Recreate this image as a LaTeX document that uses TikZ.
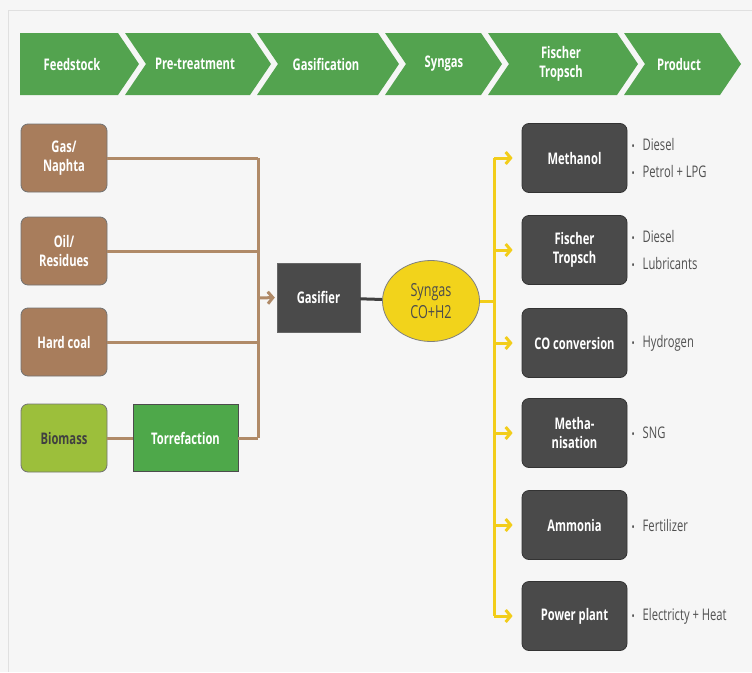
\documentclass[tikz,border=0pt]{standalone}
\usepackage{fontspec}
\setmainfont{Open Sans}[FakeStretch=0.7]
\usetikzlibrary{arrows.meta,shapes.geometric}

\definecolor{chevgreen}{HTML}{53A34F}
\definecolor{boxgray}{HTML}{4A4A4A}
\definecolor{brownbox}{HTML}{A87D5C}
\definecolor{brownline}{HTML}{B08A68}
\definecolor{biogreen}{HTML}{9CBF3B}
\definecolor{torgreen}{HTML}{4EA84A}
\definecolor{syngold}{HTML}{F2D31B}
\definecolor{linegold}{HTML}{F2CD1A}
\definecolor{bgpanel}{HTML}{F6F6F6}
\definecolor{bullettext}{HTML}{505050}

\begin{document}
\begin{tikzpicture}[x=1pt,y=-1pt,
		font=\bfseries\fontsize{16}{19}\selectfont,
		chevron/.style={fill=chevgreen},
		phase/.style={text=white,align=center},
		feedbox/.style={draw=black!55,line width=0.8pt,fill=brownbox,rounded corners=7pt,
			minimum width=86pt,minimum height=68pt,text=white,align=center},
		biobox/.style={feedbox,fill=biogreen,text=black!75},
		torrbox/.style={draw=black!70,line width=0.8pt,fill=torgreen,minimum width=105pt,
			minimum height=67pt,text=white},
		gasbox/.style={draw=black!60,fill=boxgray,minimum width=83pt,minimum height=69pt,text=white},
		synbubble/.style={ellipse,draw=black!50,line width=0.8pt,fill=syngold,minimum width=97pt,
			minimum height=81pt,text=black!70,align=center,
			font=\mdseries\fontsize{18}{22}\selectfont},
		procbox/.style={draw=black!80,line width=0.8pt,fill=boxgray,rounded corners=7pt,
			minimum width=105pt,minimum height=69pt,text=white,align=center},
		outlist/.style={anchor=west,align=left,text=bullettext,
			font=\mdseries\fontsize{16}{27}\selectfont},
		brownlink/.style={draw=brownline,line width=3pt},
		goldlink/.style={draw=linegold,line width=3pt},
		feedarrow/.style={brownlink,-{Straight Barb[length=5pt,width=12pt]},shorten >=2pt},
		goldarrow/.style={goldlink,-{Straight Barb[length=5pt,width=12pt]},shorten >=9pt}]
	\useasboundingbox (0,0) rectangle (752,672);
	\fill[bgpanel] (0,0) rectangle (752,672);
	\draw[black!12,line width=1pt] (8,672) -- (8,10) -- (752,10);

	% phase chevrons
	\foreach \xl/\xr/\nt/\tx/\txt [count=\i] in {20/118/0/72/Feedstock,
			125/250/21/195/Pre-treatment,257/378/21/326/Gasification,
			385/481/21/444/Syngas,488/617/21/561/{Fischer\\Tropsch},
			624/720/21/679/Product}{
		\fill[chevron] (\xl,33) -- (\xr,33) -- (\xr+21,64) -- (\xr,95)
			-- (\xl,95) -- (\xl+\nt,64) -- cycle;
		\node[phase] (phase-\i) at (\tx,64) {\txt};
	}

	% feedstock
	\node[feedbox] (gas) at (64,158) {Gas/\\Naphta};
	\node[feedbox] (oil) at (64,251) {Oil/\\Residues};
	\node[feedbox] (coal) at (64,342) {Hard coal};
	\node[biobox] (bio) at (64,438) {Biomass};
	\node[torrbox] (torr) at (185.5,438) {Torrefaction};

	% gasifier and syngas
	\node[gasbox] (gasifier) at (318.5,297.5) {Gasifier};
	\node[synbubble] (syngas) at (431,301) {Syngas\\CO+H2};
	\coordinate (feedbus) at (258,298);
	\coordinate (synbus) at (494,301);

	\draw[brownlink] (bio) -- (torr);
	\foreach \src in {gas,oil,coal,torr}
		\draw[brownlink] (\src.east) -- (\src.east -| feedbus);
	\draw[brownlink] (gas.east -| feedbus) -- (torr.east -| feedbus);
	\draw[feedarrow] (feedbus) -- (gasifier.west);
	\draw[draw=black!75,line width=3pt] (gasifier) -- (syngas);

	% processes
	\node[procbox] (meth) at (574.5,158) {Methanol};
	\node[procbox] (ft) at (574.5,250) {Fischer\\Tropsch};
	\node[procbox] (coconv) at (574.5,343) {CO conversion};
	\node[procbox] (methan) at (574.5,433) {Metha-\\nisation};
	\node[procbox] (ammonia) at (574.5,525) {Ammonia};
	\node[procbox] (power) at (574.5,616) {Power plant};

	\draw[goldlink] (syngas.east) -- (synbus);
	\draw[goldlink] (meth.west -| synbus) -- (power.west -| synbus);
	\foreach \dst in {meth,ft,coconv,methan,ammonia,power}
		\draw[goldarrow] (\dst.west -| synbus) -- (\dst.west);

	% products
	\newcommand{\pitem}{{\fontsize{12}{12}\selectfont\textbullet}\hspace{8pt}}
	\node[outlist] (meth-out) at (628,158) {\pitem Diesel\\\pitem Petrol + LPG};
	\node[outlist] (ft-out) at (628,250) {\pitem Diesel\\\pitem Lubricants};
	\node[outlist] (coconv-out) at (628,343) {\pitem Hydrogen};
	\node[outlist] (methan-out) at (628,433) {\pitem SNG};
	\node[outlist] (ammonia-out) at (628,525) {\pitem Fertilizer};
	\node[outlist] (power-out) at (628,616) {\pitem Electricty + Heat};
\end{tikzpicture}
\end{document}
